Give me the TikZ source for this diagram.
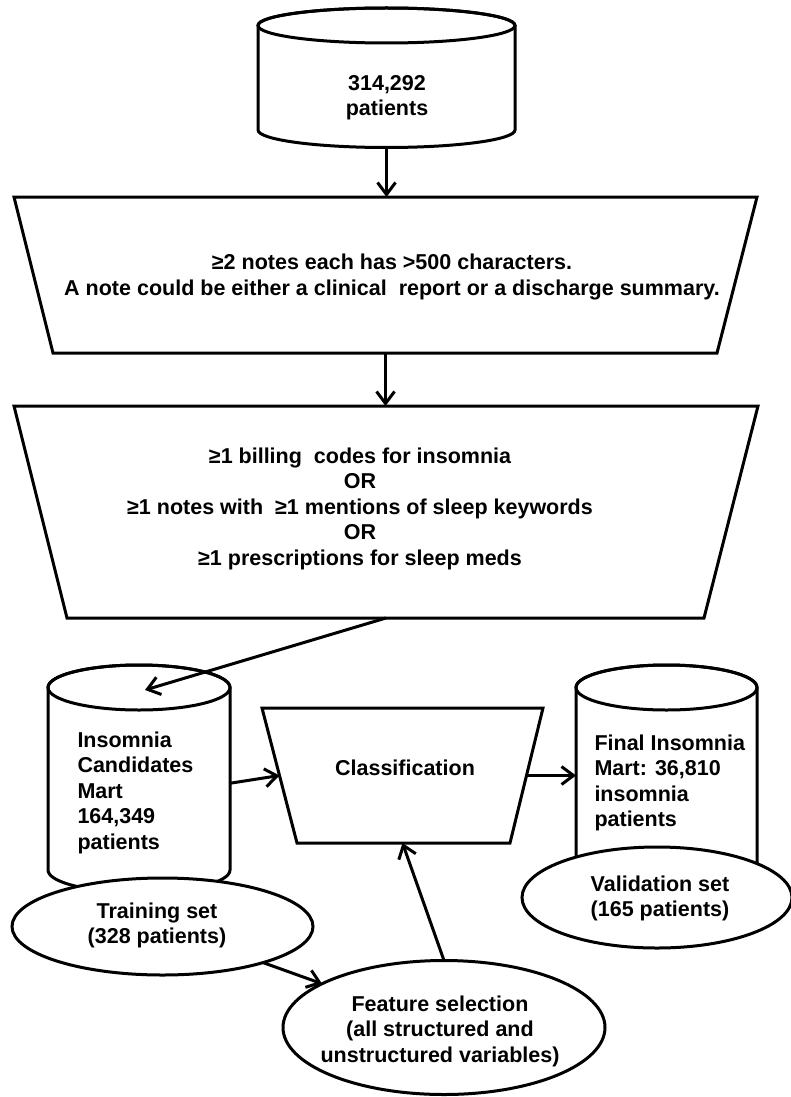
\documentclass[tikz,border=0pt]{standalone}
\usepackage{fontspec}
\setmainfont{Liberation Sans}
\usetikzlibrary{shapes.geometric,arrows.meta}
\begin{document}
\begin{tikzpicture}[x=1pt,y=1pt,
  line width=3pt,
  txt/.style={font=\bfseries\fontsize{21.5}{25.5}\selectfont, align=center, inner sep=0pt},
  txtl/.style={txt, align=left, anchor=west},
  oval/.style={draw, fill=white, ellipse, inner sep=0pt, outer sep=0pt},
  box/.style={rectangle, inner sep=0pt, outer sep=0pt},
  arr/.style={-{Straight Barb[length=12pt,width=18pt]}, line width=3pt}]
\useasboundingbox (0,0) rectangle (791,-1097);

% ---- top cylinder ----
\node[box, minimum width=257pt, minimum height=139.5pt] (db) at (386.5,-77.75) {};
\draw[fill=white] (258,-25.5) -- (258,-130)
   arc[start angle=180, end angle=360, x radius=128.5pt, y radius=17.5pt]
   -- (515,-25.5) arc[start angle=0, end angle=180, x radius=128.5pt, y radius=17.5pt] -- cycle;
\draw (386.5,-25.5) ellipse[x radius=128.5pt, y radius=17.5pt];
\node[txt] (dbtxt) at (387,-97.5) {314,292\\patients};

% ---- filter trapezia ----
\node[box, minimum width=743pt, minimum height=156pt] (trap1) at (385.5,-275) {};
\draw[fill=white] (trap1.north west) -- (trap1.north east) -- ([xshift=-40pt]trap1.south east)
   -- ([xshift=39pt]trap1.south west) -- cycle;
\node[txt] (trap1txt) at (392,-277) {≥2 notes each has >500 characters.\\A note could be either a clinical\ \ report or a discharge summary.};

\node[box, minimum width=744pt, minimum height=212pt] (trap2) at (386,-512) {};
\draw[fill=white] (trap2.north west) -- (trap2.north east) -- ([xshift=-54pt]trap2.south east)
   -- ([xshift=53pt]trap2.south west) -- cycle;
\node[txt] (trap2txt) at (360,-508.5) {≥1 billing\ \ codes for insomnia\\OR\\≥1 notes with\ \ ≥1 mentions of sleep keywords\\OR\\≥1 prescriptions for sleep meds};

% ---- left cylinder ----
\node[box, minimum width=182pt, minimum height=227.5pt] (cand) at (139,-778.75) {};
\draw[fill=white] (48,-687.5) -- (48,-870)
   arc[start angle=180, end angle=360, x radius=91pt, y radius=22.5pt]
   -- (230,-687.5) arc[start angle=0, end angle=180, x radius=91pt, y radius=22.5pt] -- cycle;
\draw (139,-687.5) ellipse[x radius=91pt, y radius=22.5pt];
\node[txtl] (candtxt) at (76,-792.5) {Insomnia\\Candidates\\Mart\\164,349\\patients};
\coordinate (candtop) at (145,-690);

% ---- right cylinder ----
\node[box, minimum width=181pt, minimum height=227.5pt] (final) at (666.5,-778.75) {};
\draw[fill=white] (576,-687.5) -- (576,-870)
   arc[start angle=180, end angle=360, x radius=90.5pt, y radius=22.5pt]
   -- (757,-687.5) arc[start angle=0, end angle=180, x radius=90.5pt, y radius=22.5pt] -- cycle;
\draw (666.5,-687.5) ellipse[x radius=90.5pt, y radius=22.5pt];
\node[txtl] (finaltxt) at (593,-783) {Final Insomnia\\Mart: 36,810\\insomnia\\patients};

% ---- classification ----
\node[box, minimum width=281pt, minimum height=135pt] (cls) at (402.5,-775.5) {};
\draw[fill=white] (cls.north west) -- (cls.north east) -- ([xshift=-33pt]cls.south east)
   -- ([xshift=35pt]cls.south west) -- cycle;
\coordinate (clsL) at ([xshift=17.5pt]cls.west);
\coordinate (clsR) at ([xshift=-16.5pt]cls.east);
\node[txt] (clstxt) at (405,-768) {Classification};

% ---- ellipses ----
\node[oval, minimum width=301pt, minimum height=97pt] (train) at (162.5,-926.5) {};
\node[txt] (traintxt) at (157,-925.5) {Training set\\(328 patients)};

\node[oval, minimum width=270pt, minimum height=101pt] (val) at (657,-897.5) {};
\node[txt] (valtxt) at (660,-898.5) {Validation set\\(165 patients)};

\node[oval, minimum width=322pt, minimum height=134pt] (feat) at (444,-1027.5) {};
\node[txt] (feattxt) at (440,-1031) {Feature selection\\(all structured and\\unstructured variables)};

% ---- connectors ----
\draw[arr] (db.south) -- (db.south |- trap1.north);
\draw[arr] (trap1.south) -- (trap1.south |- trap2.north);
\draw[arr] (trap2.south) -- (candtop);
\draw[arr] ([yshift=-4.5pt]cand.east) -- (clsL);
\draw[arr] (clsR) -- (clsR -| final.west);
\draw[arr] (train) -- (feat);
\draw[arr] (feat.north) -- (cls.south);
\end{tikzpicture}
\end{document}
